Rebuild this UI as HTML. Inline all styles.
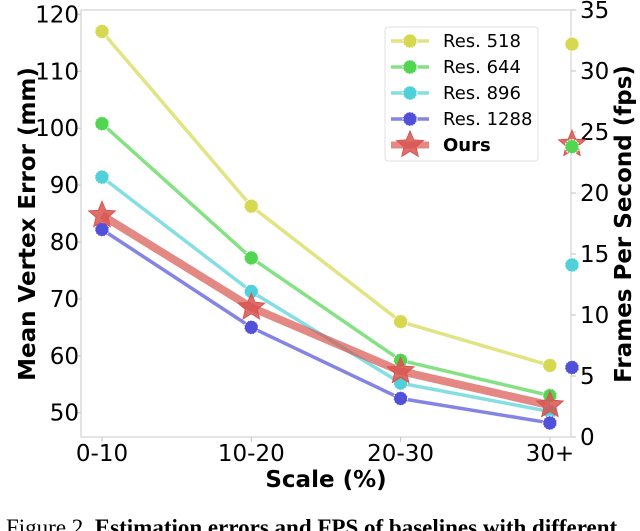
<!DOCTYPE html>
<html><head><meta charset="utf-8"><style>
body{margin:0;background:#fff;overflow:hidden;}
svg{display:block;font-family:"DejaVu Sans","Liberation Sans",sans-serif;}
</style></head><body>
<svg id="chart" width="640" height="531" viewBox="0 0 640 531">
<rect x="81" y="10" width="490" height="427" fill="none" stroke="#dcdcdc" stroke-width="1.5"/>
<g id="axes"></g>
<g id="series"></g>
<g id="legend">
<rect x="385" y="27" width="153" height="134" rx="3" fill="#fff" fill-opacity="0.85" stroke="#e0e0e0"/>
</g>
<text x="0" y="0" transform="translate(35,224) rotate(-90)" text-anchor="middle" font-weight="bold" font-size="23">Mean Vertex Error (mm)</text>
<text x="0" y="0" transform="translate(631,224) rotate(-90)" text-anchor="middle" font-weight="bold" font-size="23">Frames Per Second (fps)</text>
<text x="326" y="487" text-anchor="middle" font-weight="bold" font-size="23">Scale (%)</text>
<text x="6" y="535" font-family="'Liberation Serif',serif" font-size="23">Figure 2. <tspan font-weight="bold">Estimation errors and FPS of baselines with different</tspan></text>
</svg>
<script>
const categories=["0-10","10-20","20-30","30+"];
const seriesNames=["Res. 518","Res. 644","Res. 896","Res. 1288","Ours"];
const err518=[117,86.3,66,58.3];
const err644=[100.8,77.2,59.2,53];
const err896=[91.4,71.3,55.2,50.2];
const err1288=[82.2,65,52.5,48.2];
const errOurs=[84.7,68.5,57.3,51.3];
const fpsValues=[32.2,23.8,14.1,5.7,24];
const yTicks=[50,60,70,80,90,100,110,120];
const y2Ticks=[0,5,10,15,20,25,30,35];

const NS="http://www.w3.org/2000/svg";
const colors=["#d6d94f","#50d650","#50d0d8","#5050d8","#d85550"];
const xPos=i=>102+i*149.3;
const yMM=v=>242-(v-80)*5.69;
const yFPS=v=>437-v*12.2;
function mk(tag,attrs,parent){const e=document.createElementNS(NS,tag);for(const k in attrs)e.setAttribute(k,attrs[k]);parent.appendChild(e);return e;}
const axes=document.getElementById('axes');
const ser=document.getElementById('series');
const leg=document.getElementById('legend');

yTicks.forEach(t=>{const y=yMM(t);
 const l=mk('line',{x1:76,x2:81,y1:y,y2:y,stroke:'#ccc','stroke-width':1.2},axes);
 
 
 const tx=mk('text',{x:79,y:y+8,'text-anchor':'end','font-size':23},axes);tx.textContent=t;
 
 
});
y2Ticks.forEach(t=>{const y=yFPS(t);
 const l=mk('line',{x1:571,x2:576,y1:y,y2:y,stroke:'#ccc','stroke-width':1.2},axes);
 
 
 const tx=mk('text',{x:580,y:y+8,'font-size':23},axes);tx.textContent=t;
 
 
});
categories.forEach((c,i)=>{const x=xPos(i);
 const l=mk('line',{x1:x,x2:x,y1:437,y2:442,stroke:'#ccc','stroke-width':1.2},axes);
 
 
 const tx=mk('text',{x:x,y:461,'text-anchor':'middle','font-size':23},axes);tx.textContent=c;
 
 
});

function starPath(cx,cy,R){const r=R*0.45;let d='';for(let k=0;k<10;k++){const a=-Math.PI/2+k*Math.PI/5;const rr=k%2?r:R;d+=(k?'L':'M')+(cx+rr*Math.cos(a)).toFixed(1)+','+(cy+rr*Math.sin(a)).toFixed(1);}return d+'Z';}
function marker(cx,cy,si,parent,name){
 if(si===4){const p=mk('path',{d:starPath(cx,cy,14),fill:colors[4],'fill-opacity':0.85,stroke:colors[4],'stroke-width':1},parent);
  
  }
 else{const c=mk('circle',{cx:cx,cy:cy,r:7,fill:colors[si],stroke:'#fff','stroke-width':1,'stroke-dasharray':'2 1'},parent);
  
  }
}
const allErr=[err518,err644,err896,err1288,errOurs];
allErr.forEach((arr,si)=>{
 const pts=arr.map((v,i)=>xPos(i)+','+yMM(v)).join(' ');
 const pl=mk('polyline',{points:pts,fill:'none',stroke:colors[si],'stroke-opacity':0.7,'stroke-width':si===4?8:3.5,'stroke-linejoin':'round'},ser);
 
 
});
allErr.forEach((arr,si)=>{arr.forEach((v,i)=>marker(xPos(i),yMM(v),si,ser,'point-'+si+'-'+i));});
marker(572,yFPS(fpsValues[4]),4,ser,'fps-ours');
fpsValues.forEach((v,si)=>{ if(si!==4) marker(572,yFPS(v),si,ser,'fps-point-'+si);});

seriesNames.forEach((n,si)=>{const y=41+si*26;
 const l=mk('line',{x1:391,x2:429,y1:y,y2:y,stroke:colors[si],'stroke-opacity':0.7,'stroke-width':si===4?7:3.5},leg);
 
 
 marker(410,y,si,leg,'legend-marker');
 const tx=mk('text',{x:443,y:y+6,'font-size':18,'font-weight':si===4?'bold':'normal'},leg);tx.textContent=n;
 
 
});
</script>
</body></html>
